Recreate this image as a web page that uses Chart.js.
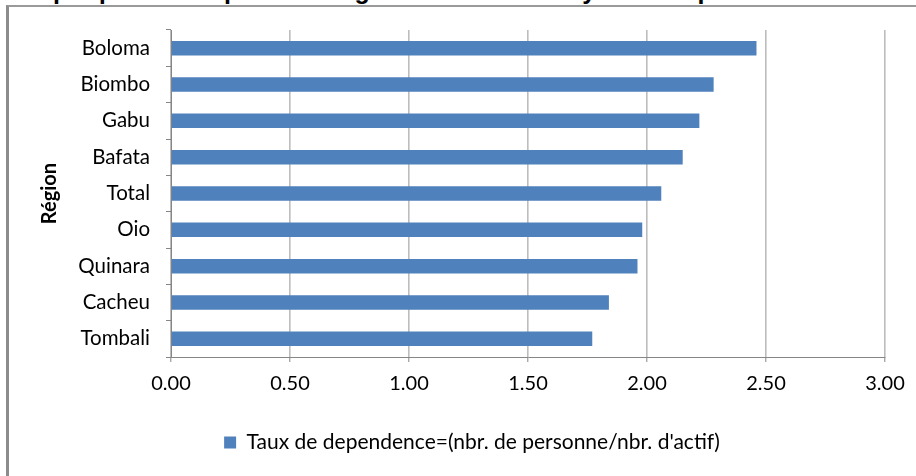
<!DOCTYPE html>
<html><head><meta charset="utf-8">
<script src="https://cdn.jsdelivr.net/npm/chart.js@4/dist/chart.umd.min.js"></script>
<style>
html,body{margin:0;padding:0;background:#fff;overflow:hidden;}
#wrap{position:relative;width:916px;height:476px;overflow:hidden;}
#frame{position:absolute;left:6px;top:5px;right:-5px;bottom:-5px;border-left:3px solid #8c8c8c;border-top:2px solid #9a9a9a;}
#ttl{position:absolute;left:10px;top:-22px;font:bold 25px "Liberation Sans",Arial,sans-serif;white-space:nowrap;color:#000;line-height:25px;}
canvas{position:absolute;left:0;top:0;}
</style></head><body>
<div id="wrap">
<div id="ttl">Graphique 15 : Répartition régionale du taux moyen de dépendance</div>
<div id="frame"></div>
<canvas id="c" width="916" height="476"></canvas>
</div>
<script>
const categories = ['Boloma','Biombo','Gabu','Bafata','Total','Oio','Quinara','Cacheu','Tombali'];
const values = [2.46, 2.28, 2.22, 2.15, 2.06, 1.98, 1.96, 1.84, 1.77];
const xTickLabels = ['0.00','0.50','1.00','1.50','2.00','2.50','3.00'];
const seriesName = "Taux de dependence=(nbr. de personne/nbr. d'actif)";
const axisTitle = 'Région';

const FONT = 'Lato, "Liberation Sans", sans-serif';
Chart.defaults.font.family = FONT;
Chart.defaults.color = '#000';

new Chart(document.getElementById('c'), {
  type: 'bar',
  data: {
    labels: categories,
    datasets: [{
      label: seriesName,
      data: values,
      backgroundColor: '#4f81bd',
      borderWidth: 0,
      barPercentage: 0.4,
      categoryPercentage: 1.0
    }]
  },
  options: {
    indexAxis: 'y',
    responsive: false,
    animation: false,
    devicePixelRatio: 1,
    layout: { padding: { top: 30, right: 31, left: 59, bottom: 13 } },
    plugins: {
      tooltip: { enabled: false },
      legend: {
        position: 'bottom',
        labels: { boxWidth: 12, boxHeight: 12, padding: 10, font: { size: 21 }, color: '#000' }
      }
    },
    scales: {
      x: {
        min: 0, max: 3,
        ticks: { stepSize: 0.5, font: { size: 20 }, color: '#000', padding: 10,
                 callback: (v, i) => xTickLabels[i] },
        grid: { color: '#bdbdbd', lineWidth: 1.6, tickColor: '#868686', tickLength: 5, tickWidth: 1 },
        border: { color: '#868686', width: 1 },
        afterFit: (s) => { s.height = 65; }
      },
      y: {
        ticks: { font: { size: 20.5 }, color: '#000', padding: 16 },
        grid: { offset: true, drawOnChartArea: false, drawTicks: true, tickLength: 5, tickColor: '#868686' },
        border: { color: '#868686', width: 1 },
        title: { display: true, text: axisTitle, font: { size: 20, weight: 'bold' }, color: '#000',
                 padding: { top: -21, bottom: 0 } },
        afterFit: (s) => { s.width = 112; }
      }
    }
  }
});
</script>
</body></html>
